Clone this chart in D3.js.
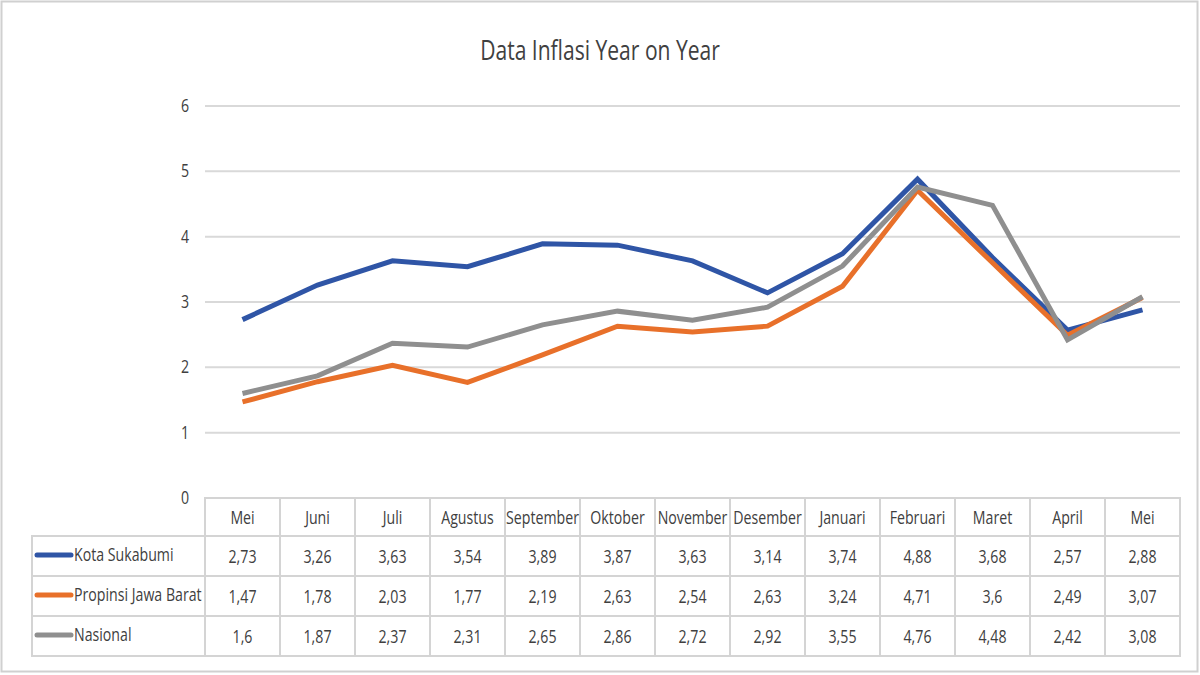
<!DOCTYPE html>
<html>
<head>
<meta charset="utf-8">
<script src="https://cdn.jsdelivr.net/npm/d3@7"></script>
<style>
  body { margin: 0; background: #fff; }
  text { font-family: "Open Sans", "Noto Sans", sans-serif; fill: #404040; }
</style>
</head>
<body>
<div id="chart"></div>
<script>
const months = ["Mei", "Juni", "Juli", "Agustus", "September", "Oktober", "November", "Desember", "Januari", "Februari", "Maret", "April", "Mei"];
const seriesNames = ["Kota Sukabumi", "Propinsi Jawa Barat", "Nasional"];
const kotaSukabumi = [2.73, 3.26, 3.63, 3.54, 3.89, 3.87, 3.63, 3.14, 3.74, 4.88, 3.68, 2.57, 2.88];
const jawaBarat = [1.47, 1.78, 2.03, 1.77, 2.19, 2.63, 2.54, 2.63, 3.24, 4.71, 3.6, 2.49, 3.07];
const nasional = [1.6, 1.87, 2.37, 2.31, 2.65, 2.86, 2.72, 2.92, 3.55, 4.76, 4.48, 2.42, 3.08];
const yTicks = [0, 1, 2, 3, 4, 5, 6];

const colors = ["#2F55A6", "#E8702A", "#8F8F8F"];
const series = [kotaSukabumi, jawaBarat, nasional].map((v, i) => ({ name: seriesNames[i], values: v, color: colors[i] }));

const width = 1200, height = 675;
const plotLeft = 205, plotRight = 1180, plotTop = 106, plotBottom = 498;
const tableLeft = 32, rowH = 40, headH = 38;
const squeeze = 0.745; // narrow the font to look like Calibri

const svg = d3.select("#chart").append("svg")
  .attr("width", width)
  .attr("height", height);

// places a horizontally condensed text
function label(sel, px, py) {
  return sel.attr("transform", (d, i) => `translate(${px(d, i)},${py(d, i)}) scale(${squeeze},1)`);
}

// outer frame
svg.append("rect")
  .attr("x", 1.5).attr("y", 1.5)
  .attr("width", width - 4).attr("height", height - 5)
  .attr("fill", "none").attr("stroke", "#d0d0d0").attr("stroke-width", 2);

const x = d3.scaleBand().domain(d3.range(months.length)).range([plotLeft, plotRight]);
const y = d3.scaleLinear().domain([0, 6]).range([plotBottom, plotTop]);

svg.append("text")
  .attr("transform", "translate(600,60) scale(0.78,1)")
  .attr("text-anchor", "middle")
  .attr("font-size", 27)
  .text("Data Inflasi Year on Year");

// grid
svg.append("g")
  .selectAll("line")
  .data(yTicks.filter(d => d > 0))
  .join("line")
  .attr("x1", plotLeft).attr("x2", plotRight)
  .attr("y1", d => y(d)).attr("y2", d => y(d))
  .attr("stroke", "#d9d9d9").attr("stroke-width", 2);

label(svg.append("g")
  .attr("font-size", 19)
  .attr("text-anchor", "end")
  .selectAll("text")
  .data(yTicks)
  .join("text")
  .text(d => d), () => 189, d => y(d) + 6);

// lines
const line = d3.line()
  .x((d, i) => x(i) + x.bandwidth() / 2)
  .y(d => y(d));

svg.append("g")
  .selectAll("path")
  .data(series)
  .join("path")
  .attr("fill", "none")
  .attr("stroke", d => d.color)
  .attr("stroke-width", 5)
  .attr("stroke-linejoin", "miter")
  .attr("d", d => line(d.values));

// data table
const fmt = v => String(v).replace(".", ",");
const tableTop = plotBottom;
const grid = svg.append("g").attr("stroke", "#d4d4d4").attr("stroke-width", 2).attr("fill", "none");

grid.selectAll(".hcell")
  .data(months)
  .join("rect")
  .attr("x", (d, i) => x(i)).attr("y", tableTop)
  .attr("width", x.bandwidth()).attr("height", headH);

series.forEach((s, r) => {
  const ry = tableTop + headH + r * rowH;
  grid.append("rect")
    .attr("x", tableLeft).attr("y", ry)
    .attr("width", plotLeft - tableLeft).attr("height", rowH);
  grid.selectAll(null)
    .data(s.values)
    .join("rect")
    .attr("x", (d, i) => x(i)).attr("y", ry)
    .attr("width", x.bandwidth()).attr("height", rowH);
});

label(svg.append("g")
  .attr("font-size", 19)
  .attr("text-anchor", "middle")
  .selectAll("text")
  .data(months)
  .join("text")
  .text(d => d), (d, i) => x(i) + x.bandwidth() / 2, () => tableTop + headH / 2 + 7);

series.forEach((s, r) => {
  const cy = tableTop + headH + r * rowH + rowH / 2;
  const g = svg.append("g").attr("font-size", 19);
  g.append("line")
    .attr("x1", tableLeft + 5).attr("x2", tableLeft + 39)
    .attr("y1", cy - 1).attr("y2", cy - 1)
    .attr("stroke", s.color).attr("stroke-width", 5).attr("stroke-linecap", "round");
  g.append("text")
    .attr("transform", `translate(${tableLeft + 42},${cy + 5}) scale(${squeeze},1)`)
    .text(s.name);
  label(g.selectAll(".v")
    .data(s.values)
    .join("text")
    .attr("text-anchor", "middle")
    .text(d => fmt(d)), (d, i) => x(i) + x.bandwidth() / 2, () => cy + 7);
});
</script>
</body>
</html>
